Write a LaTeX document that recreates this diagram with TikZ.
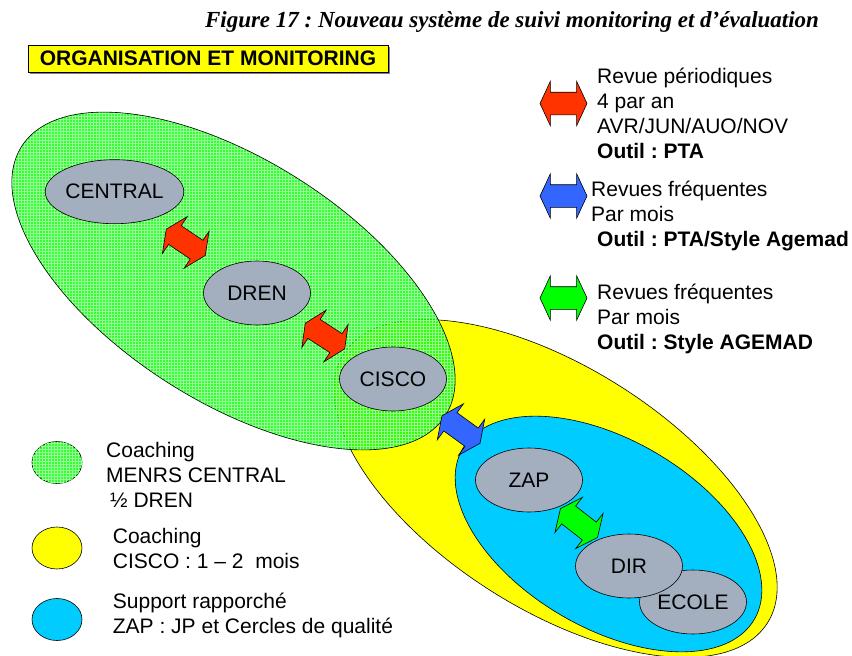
\documentclass[tikz,border=0pt]{standalone}
\usepackage{fontspec}
\setmainfont{Liberation Sans}
\newfontfamily\titlefont{Liberation Serif}
\usetikzlibrary{shapes.geometric,shapes.arrows,positioning,calc,patterns,shadows}

\definecolor{zgreen}{RGB}{0,255,0}
\definecolor{zyellow}{RGB}{255,255,0}
\definecolor{zblue}{RGB}{0,204,255}
\definecolor{zgray}{RGB}{163,175,191}
\definecolor{zred}{RGB}{255,51,0}
\definecolor{zdarkblue}{RGB}{51,102,255}

\frenchspacing
\begin{document}
\begin{tikzpicture}[x=1pt, y=-1pt,
  every node/.style={font=\fontsize{21}{25}\selectfont},
  place/.style={ellipse, draw, line width=0.6pt, fill=zgray, minimum width=107pt, minimum height=64pt, inner sep=0pt},
  legdot/.style={ellipse, draw, line width=0.6pt, minimum width=50pt, minimum height=42pt},
  dbl/.style={double arrow, draw, line width=0.6pt, minimum height=47pt, inner xsep=0pt, inner ysep=11pt,
    double arrow head extend=11pt, double arrow tip angle=130},
  txt/.style={align=left, inner sep=0pt, anchor=north west},
  zone/.style={line width=0.6pt},
  grain/.style={pattern=grid, pattern color=zgreen!40!white, fill opacity=0.45}
]
  \useasboundingbox (0,0) rectangle (852,656);
  \clip (0,0) rectangle (852,656);

  % zones
  \draw[zone, fill=zyellow, rotate around={-32.4:(555.5,488.5)}] (555.5,488.5) ellipse [x radius=251, y radius=121];
  \fill[zgreen, fill opacity=0.8, rotate around={-32.4:(233.5,281)}] (233.5,281) ellipse [x radius=251, y radius=121];
  \fill[grain, rotate around={-32.4:(233.5,281)}] (233.5,281) ellipse [x radius=251, y radius=121];
  \draw[zone, rotate around={-32.4:(233.5,281)}] (233.5,281) ellipse [x radius=251, y radius=121];
  \draw[zone, fill=zblue, rotate around={-30.4:(608.5,534)}] (608.5,534) ellipse [x radius=169, y radius=94];

  % levels
  \node[place] (central) at (114.5,191.7) {CENTRAL};
  \node[place] (dren)    at (257,293)     {DREN};
  \node[place] (cisco)   at (393,379)     {CISCO};
  \node[place] (zap)     at (529,480)     {ZAP};
  \node[place] (ecole)   at (693,602)     {ECOLE};
  \node[place] (dir)     at (629,566)     {DIR};

  % reviews between levels
  \node[dbl, fill=zred, rotate=-34]      (r1) at ($(central)!0.5!(dren)$) {};
  \node[dbl, fill=zred, rotate=-33]      (r2) at ($(dren)!0.5!(cisco)$) {};
  \node[dbl, fill=zdarkblue, rotate=-36] (r3) at ($(cisco)!0.5!(zap)$) {};
  \node[dbl, fill=zgreen, rotate=-38]    (r4) at ($(zap)!0.5!(dir)$) {};

  % title
  \node (title) at (512,22) {\titlefont\fontsize{23}{27}\selectfont\bfseries\itshape Figure 17 : Nouveau système de suivi monitoring et d’évaluation};
  \node[draw, fill=zyellow, line width=0.6pt, minimum width=360pt, minimum height=27pt, inner sep=0pt,
    drop shadow={shadow xshift=2pt, shadow yshift=-2pt, fill=gray, opacity=1}] (org) at (208,58.5) {\bfseries ORGANISATION ET MONITORING};

  % legend of the reviews
  \node[dbl, fill=zred]      (kr) at (563.5,103.5) {};
  \node[dbl, fill=zdarkblue] (kb) at (563.5,196) {};
  \node[dbl, fill=zgreen]    (kg) at (563.5,298) {};
  \node[txt] (tr) at (597,68)  {Revue périodiques\\4 par an\\AVR/JUN/AUO/NOV\\\textbf{Outil : PTA}};
  \node[txt] (tb) at (591,181) {Revues fréquentes\\Par mois\\\hspace*{6pt}\textbf{Outil : PTA/Style Agemad}};
  \node[txt] (tg) at (597,284) {Revues fréquentes\\Par mois\\\textbf{Outil : Style AGEMAD}};

  % legend of the zones
  \node[legdot, fill=zgreen!80] (lg) at (57,462.5) {};
  \fill[grain] (lg.center) ellipse [x radius=25, y radius=21];
  \node[legdot, fill=zyellow]   (ly) at (57,548)   {};
  \node[legdot, fill=zblue]     (lb) at (57,619.5) {};
  \node[txt] (tlg) at (106,442)   {Coaching\\MENRS CENTRAL\\\hspace*{4pt}½ DREN};
  \node[txt] (tly) at (112.7,528) {Coaching\\CISCO : 1 – 2~ mois};
  \node[txt] (tlb) at (112.7,593) {Support rapporché\\ZAP : JP et Cercles de qualité};
\end{tikzpicture}
\end{document}
